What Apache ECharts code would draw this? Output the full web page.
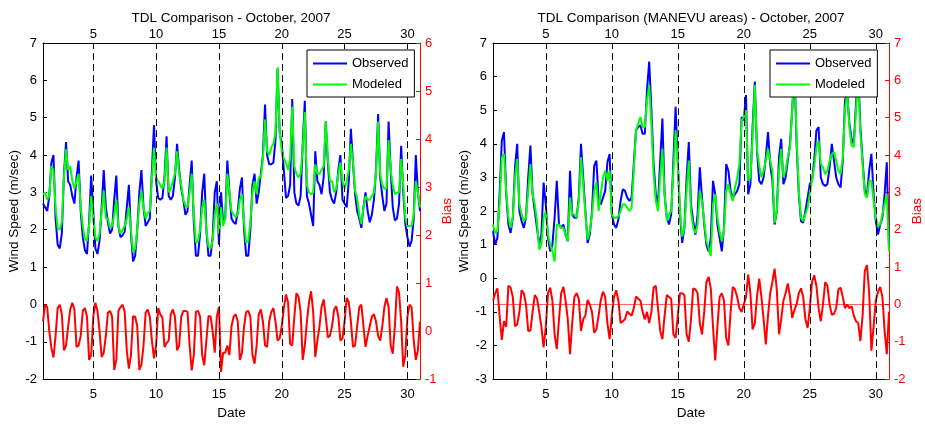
<!DOCTYPE html>
<html><head><meta charset="utf-8">
<script src="https://cdn.jsdelivr.net/npm/echarts@6/dist/echarts.min.js"></script>
<style>html,body{margin:0;padding:0;background:#fff}#c{width:925px;height:425px}</style>
</head><body><div id="c"></div>
<script>
// Day ticks (October 2007)
const dayTicks = [5, 10, 15, 20, 25, 30];
const titleLeft = 'TDL Comparison - October, 2007';
const titleRight = 'TDL Comparison (MANEVU areas) - October, 2007';
const legendNames = ['Observed', 'Modeled'];

// 4-hourly samples, Oct 1 00:00 .. Oct 31 00:00 (6 per day + final)
const obsLeft = [
 2.7,2.6,2.5,2.9,3.8,4.0,
 2.3,1.6,1.5,1.9,3.5,4.35,
 3.3,3.2,2.9,2.7,3.4,3.85,
 2.5,1.8,1.45,1.35,2.2,3.45,
 2.5,1.5,1.35,1.7,2.6,3.6,
 2.6,2.2,1.9,2.0,2.8,3.45,
 2.1,1.8,1.85,1.95,2.6,3.2,
 1.9,1.15,1.3,2.0,3.0,3.6,
 2.6,2.1,2.2,2.3,3.6,4.8,
 3.3,2.85,2.8,2.85,3.4,4.5,
 2.9,2.8,2.9,3.4,4.3,3.6,
 3.1,2.8,2.4,2.5,3.2,3.85,
 2.2,1.3,1.3,1.9,3.0,3.5,
 2.0,1.3,1.3,1.8,3.0,3.3,
 1.6,3.0,2.2,2.3,3.85,3.0,
 2.3,2.2,2.15,2.5,3.1,3.4,
 2.0,1.3,1.3,2.0,3.2,3.5,
 2.7,3.0,3.5,4.0,5.35,4.0,
 3.75,3.75,3.8,4.4,6.3,4.6,
 4.3,3.6,2.85,2.9,3.2,5.5,
 3.0,2.7,2.65,2.9,4.3,5.45,
 2.9,2.7,2.4,2.1,4.1,3.3,
 3.2,2.95,3.4,4.9,3.8,3.0,
 2.8,2.7,3.0,3.6,4.0,2.8,
 2.7,2.6,3.3,4.7,3.8,2.95,
 2.5,2.3,2.05,2.6,3.0,2.5,
 2.2,2.4,2.8,3.6,5.1,3.4,
 2.9,2.5,2.7,4.9,3.6,2.6,
 2.25,2.3,2.7,4.25,3.0,2.15,
 1.8,1.55,1.7,2.3,4.0,3.0,
 2.5];
const modLeft = [
 2.95,3.0,2.8,2.9,3.7,3.6,
 2.6,2.05,2.0,2.2,3.4,4.15,
 3.6,3.7,3.3,3.1,3.3,3.5,
 2.6,2.1,1.75,1.7,2.1,2.9,
 2.3,1.8,1.7,1.9,2.5,3.05,
 2.3,2.3,2.05,2.1,2.4,2.8,
 2.1,1.9,2.0,2.1,2.3,2.6,
 2.0,1.4,1.5,2.0,2.7,3.05,
 2.6,2.3,2.45,2.5,3.4,4.2,
 3.4,3.3,3.2,3.1,3.3,4.2,
 3.0,3.1,3.3,3.5,4.1,3.5,
 3.2,2.8,2.65,2.6,3.0,3.5,
 2.4,1.65,1.7,2.0,2.6,2.8,
 2.0,1.55,1.5,1.7,2.4,2.7,
 1.9,2.6,2.1,2.3,3.5,3.0,
 2.5,2.4,2.35,2.4,2.8,2.95,
 2.2,1.65,1.7,2.2,3.0,3.3,
 2.95,3.4,3.4,3.9,4.95,4.1,
 4.0,4.2,4.3,4.6,6.35,4.6,
 4.1,3.9,3.8,3.6,3.9,5.3,
 3.7,3.5,3.4,3.5,4.2,5.15,
 3.2,3.0,2.95,3.0,3.75,3.5,
 3.5,3.6,3.7,4.9,3.9,3.3,
 3.3,3.0,3.1,3.5,3.8,3.3,
 3.1,3.3,3.6,4.3,3.8,3.05,
 2.85,2.4,2.15,2.6,2.9,2.8,
 2.8,2.9,3.0,3.5,4.9,3.5,
 3.2,3.1,3.1,4.4,3.6,3.2,
 2.95,3.0,3.0,3.9,3.2,2.3,
 2.1,2.1,2.1,2.4,3.3,3.0,
 2.6];
const biasLeft = [
 0.2,0.55,0.5,0.0,-0.35,-0.55,
 -0.1,0.48,0.55,0.35,-0.4,-0.3,
 0.1,0.45,0.59,0.45,-0.33,-0.3,
 -0.1,0.42,0.48,0.3,-0.6,-0.5,
 0.3,0.59,0.42,0.0,-0.54,-0.45,
 -0.1,0.38,0.42,0.3,-0.81,-0.6,
 0.42,0.5,0.55,0.4,-0.4,-0.78,
 -0.5,0.31,0.3,0.1,-0.81,-0.7,
 -0.3,0.38,0.45,0.3,-0.2,-0.57,
 -0.3,0.48,0.35,0.28,-0.33,-0.25,
 -0.2,0.35,0.45,0.3,-0.4,-0.3,
 0.3,0.42,0.42,0.4,-0.3,-0.82,
 -0.5,0.4,0.42,0.3,-0.5,-0.71,
 -0.2,0.31,0.31,0.0,-0.45,0.3,
 0.5,-0.85,-0.45,-0.45,-0.3,-0.5,
 0.1,0.3,0.35,0.2,-0.6,-0.45,
 0.1,0.4,0.42,0.3,-0.5,-0.68,
 -0.3,0.35,0.45,0.2,-0.3,-0.33,
 0.2,0.4,0.48,0.2,-0.2,-0.15,
 0.1,0.48,0.76,0.6,-0.27,-0.3,
 0.3,0.79,0.72,0.4,-0.6,-0.3,
 0.2,0.6,0.83,0.4,-0.54,-0.2,
 0.1,0.5,0.66,0.3,-0.13,-0.1,
 0.1,0.45,0.52,0.3,-0.2,-0.15,
 0.2,0.69,0.6,0.2,-0.33,-0.3,
 0.1,0.5,0.55,0.1,-0.33,-0.1,
 0.1,0.3,0.35,0.2,-0.1,-0.2,
 0.1,0.5,0.69,0.5,-0.3,-0.47,
 0.1,0.93,0.8,0.2,-0.74,-0.5,
 0.3,0.55,0.5,-0.2,-0.6,-0.4,
 0.2];
const obsRight = [
 1.4,1.0,1.2,2.5,4.1,4.35,
 2.5,1.6,1.35,1.8,3.3,4.0,
 2.0,1.7,1.5,1.8,3.0,3.95,
 2.5,2.0,1.5,1.0,1.3,2.85,
 2.2,1.2,0.8,1.0,1.8,2.9,
 1.6,1.5,1.6,1.3,1.1,3.2,
 1.9,1.8,1.8,2.4,4.0,3.0,
 2.0,1.05,1.3,2.0,3.35,3.5,
 2.35,2.2,2.4,2.6,3.45,3.7,
 1.9,1.6,1.5,1.75,2.3,2.65,
 2.6,2.4,2.3,2.4,3.4,4.4,
 4.5,4.55,4.3,4.3,5.6,6.45,
 5.0,3.4,2.5,2.2,3.5,4.75,
 2.5,1.8,1.6,1.9,3.5,5.1,
 3.5,1.9,1.05,1.5,3.0,4.05,
 2.2,1.7,1.3,1.9,3.3,2.4,
 1.6,1.0,0.8,1.2,2.9,2.5,
 1.6,1.2,0.8,1.5,3.4,3.2,
 2.6,2.4,2.5,2.6,2.8,4.8,
 4.7,5.45,2.5,2.8,4.5,5.85,
 3.8,2.9,2.8,3.0,3.6,4.35,
 3.4,2.9,1.6,2.0,3.6,4.15,
 2.8,3.0,3.5,4.0,5.0,6.3,
 4.0,2.5,1.7,1.65,2.0,2.4,
 2.8,2.9,3.5,4.4,4.5,3.0,
 2.8,2.75,2.8,3.3,4.0,3.5,
 3.0,2.8,2.7,3.5,5.3,5.5,
 4.6,4.15,4.0,5.2,6.2,4.5,
 3.5,2.6,2.5,3.2,3.7,2.5,
 1.7,1.3,1.6,1.8,2.5,3.45,
 0.95];
const modRight = [
 1.6,1.35,1.4,2.2,3.6,3.7,
 2.6,1.8,1.5,1.8,3.0,3.55,
 2.2,1.9,1.7,1.8,2.6,3.4,
 2.5,2.2,1.7,0.85,1.0,1.8,
 2.0,1.3,1.0,0.8,0.5,1.6,
 1.6,1.5,1.5,1.3,1.1,2.4,
 1.9,1.9,1.8,2.3,3.6,2.8,
 1.9,1.15,1.4,1.9,2.6,2.85,
 2.0,2.5,3.0,3.2,2.9,3.2,
 1.9,1.8,1.8,1.85,2.0,2.2,
 2.2,2.1,2.0,2.1,3.2,4.4,
 4.6,4.8,4.5,4.5,5.3,5.75,
 4.6,3.1,2.3,2.0,3.0,3.85,
 2.5,1.7,1.9,2.0,3.2,4.4,
 3.4,2.0,1.24,1.5,2.6,3.5,
 2.0,1.5,1.34,1.6,2.6,2.3,
 1.7,1.1,0.9,0.66,2.2,2.5,
 1.8,1.4,1.1,1.4,2.6,2.8,
 2.5,2.3,2.7,3.0,3.4,4.7,
 4.8,5.0,2.9,3.0,4.2,5.75,
 3.85,3.35,3.0,3.2,3.5,3.85,
 3.5,3.2,1.65,2.0,3.2,3.85,
 3.0,3.2,3.6,3.9,5.0,6.2,
 4.2,2.6,1.8,1.7,1.9,2.1,
 2.5,2.9,3.3,3.9,4.1,3.4,
 3.3,3.1,3.2,3.5,3.7,3.76,
 3.5,3.2,3.1,3.6,5.0,5.55,
 4.5,3.95,3.9,5.0,6.0,4.3,
 3.4,2.5,2.4,2.9,2.9,2.3,
 1.8,1.55,1.6,1.9,2.2,2.5,
 0.8];
const biasRight = [
 0.1,0.3,0.43,-0.3,-0.95,-0.45,
 -0.6,0.5,0.45,0.2,-0.58,-0.54,
 -0.2,0.38,0.3,0.0,-0.71,-0.7,
 -0.2,0.25,0.16,-0.2,-0.6,-1.15,
 -0.6,0.3,0.45,0.1,-0.8,-1.2,
 -0.4,0.3,0.47,0.1,-0.4,-1.33,
 -0.5,0.2,0.3,0.15,-0.71,-0.4,
 -0.3,0.12,0.0,-0.2,-0.76,-0.67,
 -0.3,0.12,0.34,0.2,-0.5,-0.93,
 -0.3,0.2,0.38,0.1,-0.5,-0.45,
 -0.4,-0.19,-0.25,-0.3,-0.1,0.21,
 0.15,0.1,-0.2,-0.4,-0.2,-0.5,
 -0.2,0.45,0.5,-0.1,-0.71,-0.93,
 -0.3,0.25,0.2,0.15,-0.8,-0.9,
 -0.3,0.3,0.3,0.25,-0.8,-1.0,
 -0.4,0.43,0.4,0.3,-0.5,-0.8,
 -0.2,0.6,0.74,0.43,-0.6,-1.5,
 -0.6,0.2,0.3,0.1,-0.9,-1.1,
 -0.2,0.47,0.4,0.2,-0.1,-0.2,
 0.0,0.2,0.8,0.3,-0.67,-0.5,
 0.2,0.69,0.2,-0.4,-1.07,-0.3,
 0.3,0.6,0.96,0.4,-0.8,-0.4,
 0.1,0.3,0.56,0.2,-0.36,-0.15,
 0.0,0.3,0.43,0.2,-0.4,-0.63,
 -0.1,0.6,0.78,0.5,-0.1,-0.45,
 0.0,0.6,0.5,0.0,-0.28,-0.25,
 -0.1,0.4,0.45,0.2,-0.1,0.0,
 -0.1,-0.05,-0.3,-0.45,-0.5,-0.98,
 -0.3,0.9,1.05,0.3,-1.24,-0.6,
 0.1,0.34,0.47,0.2,-0.71,-1.33,
 -0.2];

const START_DAY = 1, STEP = 1 / 6;
function toXY(arr) { return arr.map((v, i) => [START_DAY + i * STEP, v]); }

const FONT = '"Liberation Sans", Arial, Helvetica, sans-serif';
const BLACK = '#000', RED = '#ff0000', BLUE = '#0000ff', GREEN = '#00ff00';

function xAxesFor(gi) {
  const common = {
    type: 'value', gridIndex: gi, min: 1, max: 31,
    axisLine: { onZero: false, lineStyle: { color: BLACK, width: 1 } },
    axisTick: { inside: true, length: 4, customValues: dayTicks, lineStyle: { color: BLACK } },
    axisLabel: { customValues: dayTicks, color: BLACK, fontSize: 13, fontFamily: FONT },
    splitLine: { show: false }
  };
  return [
    Object.assign({}, common, { position: 'bottom', name: 'Date', nameLocation: 'middle', nameGap: 26,
      nameTextStyle: { color: BLACK, fontSize: 13.5, fontFamily: FONT },
      axisLabel: Object.assign({}, common.axisLabel, { margin: 9 }) }),
    Object.assign({}, common, { position: 'top',
      axisLabel: Object.assign({}, common.axisLabel, { margin: 2 }) })
  ];
}
function yAxesFor(gi, lmin, lmax, rmin, rmax, rGap) {
  return [
    { type: 'value', gridIndex: gi, position: 'left', min: lmin, max: lmax, interval: 1,
      name: 'Wind Speed (m/sec)', nameLocation: 'middle', nameGap: 18,
      nameTextStyle: { color: BLACK, fontSize: 13.5, fontFamily: FONT },
      axisLine: { show: true, onZero: false, lineStyle: { color: BLACK } },
      axisTick: { show: true, inside: true, length: 4, lineStyle: { color: BLACK } },
      axisLabel: { color: BLACK, fontSize: 13, fontFamily: FONT, margin: 6 },
      splitLine: { show: false } },
    { type: 'value', gridIndex: gi, position: 'right', min: rmin, max: rmax, interval: 1,
      name: 'Bias', nameLocation: 'middle', nameGap: rGap,
      nameTextStyle: { color: RED, fontSize: 13.5, fontFamily: FONT },
      axisLine: { show: true, onZero: false, lineStyle: { color: RED } },
      axisTick: { show: true, inside: true, length: 4, lineStyle: { color: RED } },
      axisLabel: { color: RED, fontSize: 13, fontFamily: FONT, margin: 5 },
      splitLine: { show: false } }
  ];
}
function seriesFor(xi, yl, yr, obs, mod, bias) {
  return [
    { type: 'line', name: 'vgrid', xAxisIndex: xi, yAxisIndex: yl, data: [], silent: true, z: 1,
      markLine: { silent: true, symbol: ['none', 'none'], label: { show: false },
        lineStyle: { color: BLACK, width: 1, type: [7, 4] },
        data: dayTicks.map(d => ({ xAxis: d })) } },
    { type: 'line', name: 'Observed', xAxisIndex: xi, yAxisIndex: yl, data: toXY(obs), symbol: 'none',
      lineStyle: { color: BLUE, width: 2 }, itemStyle: { color: BLUE }, z: 2 },
    { type: 'line', name: 'Modeled', xAxisIndex: xi, yAxisIndex: yl, data: toXY(mod), symbol: 'none',
      lineStyle: { color: GREEN, width: 2 }, itemStyle: { color: GREEN }, z: 3 },
    { type: 'line', name: 'Bias', xAxisIndex: xi, yAxisIndex: yr, data: toXY(bias), symbol: 'none',
      lineStyle: { color: RED, width: 2 }, itemStyle: { color: RED }, z: 3,
      markLine: { silent: true, symbol: ['none', 'none'], label: { show: false },
        lineStyle: { color: RED, width: 1, type: 'solid', opacity: 0.6 },
        data: [{ yAxis: 0 }] } }
  ];
}
function legendAt(left) {
  return { data: legendNames, left: left, top: 50, orient: 'vertical', icon: 'rect',
    itemWidth: 34, itemHeight: 2, itemGap: 6, padding: [6, 6, 5, 6],
    backgroundColor: '#fff', borderColor: BLACK, borderWidth: 1, borderRadius: 0,
    textStyle: { color: BLACK, fontSize: 13, fontFamily: FONT, lineHeight: 15 }, selectedMode: false, z: 10 };
}

const chart = echarts.init(document.getElementById('c'), null, { renderer: 'canvas' });
chart.setOption({
  backgroundColor: '#fff',
  animation: false,
  title: [
    { text: titleLeft, left: 231, top: 11, textAlign: 'center', padding: 0,
      textStyle: { color: BLACK, fontSize: 13.5, fontWeight: 'normal', fontFamily: FONT } },
    { text: titleRight, left: 691, top: 11, textAlign: 'center', padding: 0,
      textStyle: { color: BLACK, fontSize: 13.5, fontWeight: 'normal', fontFamily: FONT } }
  ],
  legend: [legendAt(307), legendAt(770)],
  grid: [
    { left: 43, top: 43, width: 377, height: 341, containLabel: false },
    { left: 493, top: 43, width: 396, height: 341, containLabel: false }
  ],
  xAxis: xAxesFor(0).concat(xAxesFor(1)),
  yAxis: yAxesFor(0, -2, 7, -1, 6, 19).concat(yAxesFor(1, -3, 7, -2, 7, 21)),
  series: seriesFor(0, 0, 1, obsLeft, modLeft, biasLeft).concat(seriesFor(2, 2, 3, obsRight, modRight, biasRight))
});
</script></body></html>
